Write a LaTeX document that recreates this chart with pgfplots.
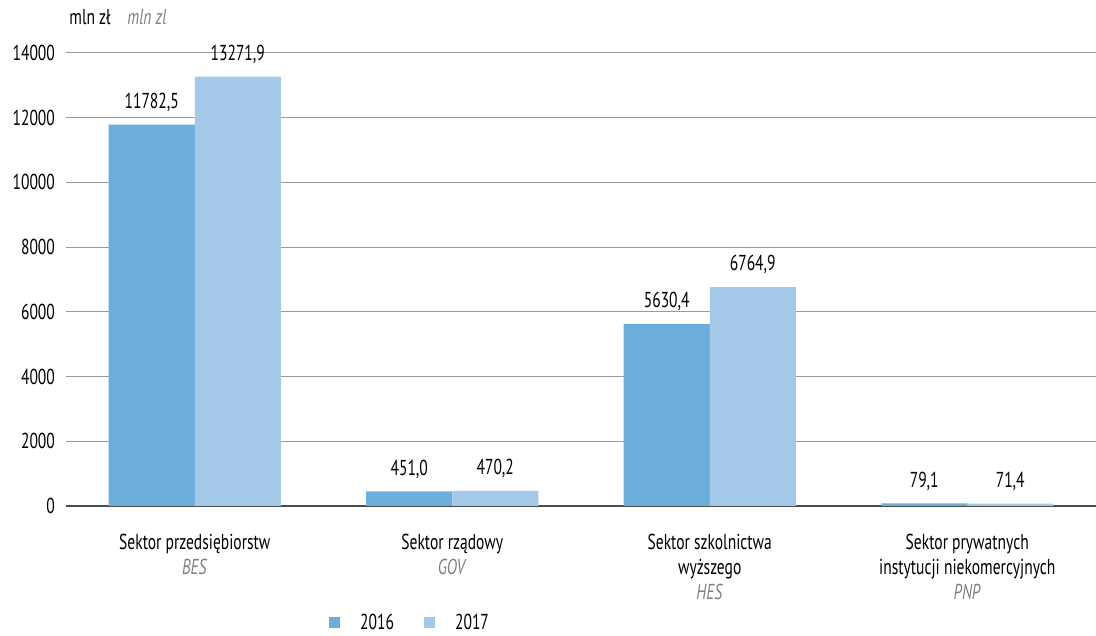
\documentclass[border=0pt]{standalone}
\usepackage{fontspec}
\setmainfont{PT Sans}[FakeStretch=0.72]
\usepackage{pgfplots}
\pgfplotsset{compat=1.18}
\definecolor{c16}{HTML}{6BAEDC}
\definecolor{c17}{HTML}{A4C8E8}
\definecolor{gridc}{HTML}{9A9A9A}
\definecolor{labgray}{HTML}{808080}
\newcommand{\fs}{\fontsize{10.8}{12.5}\selectfont}
\begin{document}
\begin{tikzpicture}
\path[use as bounding box] (0,0) rectangle (548pt,318pt);
\begin{axis}[
  at={(33pt,65pt)}, anchor=south west,
  scale only axis, width=515pt, height=226.5pt,
  ymin=0, ymax=14000, xmin=-0.5, xmax=3.5,
  clip=false,
  ybar=0pt, bar width=0.334,
  axis line style={draw=none},
  tick style={draw=none},
  ytick={2000,4000,...,14000},
  scaled y ticks=false,
  extra y ticks={0},
  extra y tick style={grid style={draw=black!70, line width=0.8pt}},
  ymajorgrids, grid style={draw=gridc, line width=0.5pt},
  /pgf/number format/assume math mode=true,
  /pgf/number format/1000 sep={},
  yticklabel style={font=\fs, anchor=east, xshift=-2pt},
  xtick={0,1,2,3},
  xticklabels={{Sektor przedsiębiorstw\\\textcolor{labgray}{\textit{BES}}},
               {Sektor rządowy\\\textcolor{labgray}{\textit{GOV}}},
               {Sektor szkolnictwa\\wyższego\\\textcolor{labgray}{\textit{HES}}},
               {Sektor prywatnych\\instytucji niekomercyjnych\\\textcolor{labgray}{\textit{PNP}}}},
  xticklabel style={font=\fs, align=center, anchor=north, yshift=-6.5pt},
  nodes near coords,
  nodes near coords style={font=\fs, yshift=3pt, /pgf/number format/.cd, fixed, fixed zerofill, precision=1, use comma, 1000 sep={}, assume math mode=true, /tikz/.cd},
  legend style={at={(0.335,-0.258)}, anchor=center, draw=none, fill=none,
    font=\fs, legend columns=2,
    /tikz/every odd column/.append style={column sep=8pt},
    /tikz/every even column/.append style={column sep=13pt}},
  legend image code/.code={\fill[#1] (0pt,-2.75pt) rectangle (5.5pt,2.75pt);},
]
\addplot[fill=c16, draw=none] coordinates {(0,11782.5) (1,451.0) (2,5630.4) (3,79.1)};
\addplot[fill=c17, draw=none] coordinates {(0,13271.9) (1,470.2) (2,6764.9) (3,71.4)};
\legend{2016,2017}
\end{axis}
\node[anchor=west, font=\fs, inner sep=0pt] at (34.5pt,309.5pt) {mln zł};
\node[anchor=west, font=\fs, inner sep=0pt, text=labgray] at (63.5pt,309.5pt) {\textit{mln zl}};
\end{tikzpicture}
\end{document}
